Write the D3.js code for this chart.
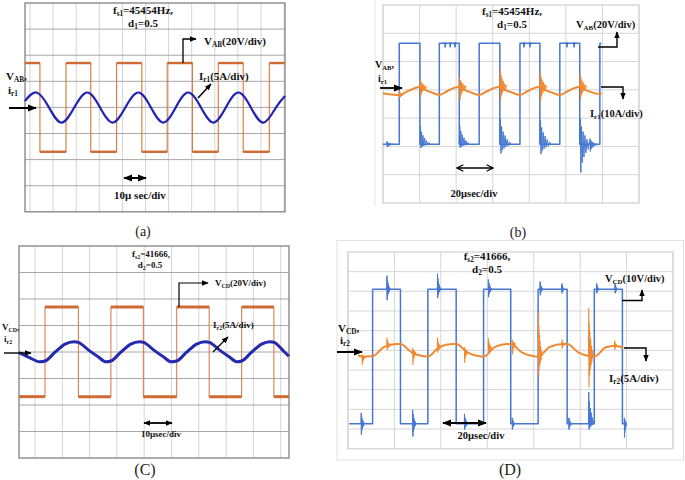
<!DOCTYPE html>
<html>
<head>
<meta charset="utf-8">
<script src="https://cdn.jsdelivr.net/npm/d3@7"></script>
<style>
body { margin: 0; background: #fff; }
text { font-family: "Liberation Serif", "Times New Roman", serif; }
</style>
</head>
<body>
<svg id="fig" width="685" height="480"></svg>
<script>
// ---- (a) 10 us/div, 20 V/div, 5 A/div
const aVabT = [-2.2, 4.3, 15.6, 26.3, 37.5, 48.4, 59.4, 70.3, 81.5, 92.3, 103.6, 110.4];
const aVabV = [34, -34, 34, -34, 34, -34, 34, -34, 34, -34, 34, 34];
const aIrT = [-2.2, 2.9, 8.2, 13.6, 19.2, 24.8, 30.3, 35.8, 41.3, 46.9, 52.3, 57.7, 63.1, 68.5, 74, 79.4, 84.8, 90.2, 95.6, 101.1, 106.5, 110.4];
const aIrV = [1.2, 2.85, 0, -2.9, 0, 2.85, 0, -2.9, 0, 2.85, 0, -2.9, 0, 2.85, 0, -2.9, 0, 2.85, 0, -2.9, 0, 2.2];

// ---- (b) 20 us/div, 20 V/div, 10 A/div
const bVabT = [0, 8.9, 20.2, 30.8, 41.7, 52.6, 63.9, 74.9, 85.8, 96.7, 107.6, 118.6, 119.4];
const bVabV = [-38.5, 33, -38.5, 33, -38.5, 33, -38.5, 33, -38.5, 33, -38.5, 33, 33];
const bIrT = [0, 4, 8.9, 13, 17, 20, 22.5, 26.5, 30.8, 35, 38.5, 41.5, 44, 48, 52.6, 57, 60.5, 63.7, 66.2, 70.3, 74.9, 79, 82.5, 85.6, 88, 92, 96.7, 101, 104.5, 107.4, 110, 114, 118.6, 119.4];
const bIrV = [-1.2, -1.6, -1.9, -0.6, 0.5, 1.0, 0.2, -0.9, -1.8, -0.5, 0.6, 1.0, 0.2, -0.9, -1.8, -0.5, 0.6, 1.0, 0.2, -0.9, -1.8, -0.5, 0.6, 1.0, 0.2, -0.9, -1.8, -0.5, 0.6, 1.0, 0.2, -0.9, -1.5, -1.0];
// spikes: [time, level, up, down, duration]
const bVabRing = [[2, -38.5, 2, 2, 4], [20.2, -38.5, 12.7, 2.5, 5.5], [41.7, -38.5, 13.4, 2.5, 5.5], [63.9, -38.5, 18, 6.4, 6], [85.8, -38.5, 17, 7, 6], [107.6, -38.5, 18, 20, 6], [113, -38.5, 4, 5, 4],
  [33.9, 33, 0.5, 3, 0.8], [36.6, 33, 0.5, 3, 0.8], [39.3, 33, 0.5, 3, 0.8], [77, 33, 0.5, 3, 0.8], [80.3, 33, 0.5, 3, 0.8], [100.5, 33, 0.5, 3, 0.8], [104.4, 33, 0.5, 3, 0.8]];
const bIrRing = [[8.9, -1.9, 1.5, 1.0, 2], [20.2, 1.0, 2.5, 3.5, 4], [41.7, 1.0, 3.5, 4.5, 4], [63.9, 1.0, 6, 4.5, 4], [85.8, 1.0, 5, 5, 4], [107.6, 1.0, 4.5, 4.5, 4]];

// ---- (C) 10 us/div, 20 V/div, 5 A/div
const cVcdT = [-5.86, 3.66, 15.9, 27.8, 39.7, 51.9, 63.8, 75.7, 87.5, 93.0];
const cVcdV = [-33.7, 34, -33.7, 34, -33.7, 34, -33.7, 34, -33.7, -33.7];
const cIrT = [-5.86, -2.2, 1.8, 3.7, 7.4, 11, 14.3, 15.9, 19.5, 23.1, 26, 27.8, 31.5, 35.1, 38.3, 39.8, 43.4, 47, 49.9, 51.9, 55.6, 59.2, 62.3, 63.9, 67.5, 71.1, 74, 75.7, 79.4, 83, 86.1, 87.6, 91.2, 93.0];
const cIrV = [-0.1, -1.0, -1.85, -1.7, 0, 1.5, 1.95, 1.8, 0.4, -0.9, -1.85, -1.7, 0, 1.5, 1.95, 1.8, 0.4, -0.9, -1.85, -1.7, 0, 1.5, 1.95, 1.8, 0.4, -0.9, -1.85, -1.7, 0, 1.5, 1.95, 1.8, 0.1, -0.8];

// ---- (D) 20 us/div, 10 V/div, 5 A/div
const dVcdT = [0.5, 10.6, 22.6, 34.4, 46.6, 58.4, 70.1, 81.9, 94.4, 106.1, 118.2, 119.5];
const dVcdV = [-37.3, 31, -37.3, 31, -37.3, 31, -37.3, 31, -37.3, 31, -37.3, -37.3];
const dIrT = [4.3, 6, 10.6, 15.6, 21, 22.6, 27.6, 34.4, 39.4, 45, 46.6, 51.6, 58.4, 63.4, 68.5, 70.1, 75.1, 81.9, 86.9, 92.8, 94.4, 99.4, 106.1, 111.1, 115, 118.6];
const dIrV = [-1.2, -1.6, -1.5, 0.9, 1.6, 1.6, -0.6, -1.6, 0.9, 1.6, 1.6, -0.6, -1.6, 0.9, 1.6, 1.6, -0.6, -1.6, 0.9, 1.6, 1.6, -0.6, -1.6, 0.8, 1.2, 0.6];
const dVcdRing = [[16.7, 31, 7, 5.5, 1.5], [38.5, 31, 8, 4.5, 1.5], [60.4, 31, 5, 4, 1.5], [82.7, 31, 4, 3, 1.2], [92.1, 31, 3, 2, 1], [107.1, 31, 3, 2, 1], [115, 31, 3, 2, 1],
  [5.6, -37.3, 5.5, 5.6, 1.5], [27.8, -37.3, 7, 6.5, 1.5], [50.1, -37.3, 5, 3, 1.5], [70.7, -37.3, 3, 3, 1.2], [95.1, -37.3, 3, 3, 1.2], [103.6, -37.3, 16, 3, 2.5], [119, -37.3, 3, 7, 1]];
const dIrRing = [[6.0, -1.6, 0.5, 2.0, 1.5], [16.7, 1.2, 2.0, 1.0, 1.5], [27.8, -0.6, 1.2, 3.0, 1.5], [38.5, 0.7, 2.5, 1.2, 1.5], [50.1, -0.3, 1.0, 2.8, 1.5], [60.4, 0.5, 2.5, 1.0, 1.5], [70.7, 1.6, 1.0, 2.5, 1.5],
  [82.0, -1.4, 10.9, 5.3, 1.6], [92.1, 1.5, 1.2, 1.0, 1.2], [103.6, -1.3, 12, 8, 2], [114.8, 1.2, 1.2, 1.0, 1.2]];

// ringing shape (fraction of duration, fraction of amplitude)
const ringDt = [0, 0.05, 0.1, 0.16, 0.22, 0.3, 0.38, 0.47, 0.56, 0.66, 0.76, 0.88, 1];
const ringK = [0, 1, -1, 0.7, -0.65, 0.5, -0.45, 0.35, -0.3, 0.2, -0.18, 0.1, 0];

const svg = d3.select("#fig");
const defs = svg.append("defs");
defs.append("marker").attr("id", "ah").attr("viewBox", "0 0 10 10")
  .attr("refX", 9).attr("refY", 5).attr("markerUnits", "userSpaceOnUse")
  .attr("markerWidth", 9).attr("markerHeight", 9).attr("orient", "auto-start-reverse")
  .append("path").attr("d", "M0,1 L10,5 L0,9 z").attr("fill", "#000");
defs.append("marker").attr("id", "ahs").attr("viewBox", "0 0 10 10")
  .attr("refX", 9).attr("refY", 5).attr("markerUnits", "userSpaceOnUse")
  .attr("markerWidth", 7).attr("markerHeight", 7).attr("orient", "auto-start-reverse")
  .append("path").attr("d", "M0,1 L10,5 L0,9 z").attr("fill", "#000");
defs.append("marker").attr("id", "aho").attr("viewBox", "0 0 10 10")
  .attr("refX", 9).attr("refY", 5).attr("markerUnits", "userSpaceOnUse")
  .attr("markerWidth", 8).attr("markerHeight", 8).attr("orient", "auto-start-reverse")
  .append("path").attr("d", "M1,1 L9,5 L1,9").attr("fill", "none").attr("stroke", "#000").attr("stroke-width", 1.4);

const zip = (T, V) => T.map((t, i) => [t, V[i]]);

function grid(x, y, xt, yt, frame, vCol, hCol, fCol) {
  const g = svg.append("g");
  g.selectAll(null).data(xt).join("line")
    .attr("x1", d => x(d)).attr("x2", d => x(d))
    .attr("y1", frame[1]).attr("y2", frame[3])
    .attr("stroke", vCol).attr("stroke-width", 1);
  g.selectAll(null).data(yt).join("line")
    .attr("x1", frame[0]).attr("x2", frame[2])
    .attr("y1", d => y(d)).attr("y2", d => y(d))
    .attr("stroke", hCol).attr("stroke-width", 1);
  g.append("rect").attr("x", frame[0]).attr("y", frame[1])
    .attr("width", frame[2] - frame[0]).attr("height", frame[3] - frame[1])
    .attr("fill", "none").attr("stroke", fCol).attr("stroke-width", 1.4);
}

function trace(x, y, pts, curve, col, w) {
  svg.append("path")
    .attr("d", d3.line().x(d => x(d[0])).y(d => y(d[1])).curve(curve)(pts))
    .attr("fill", "none").attr("stroke", col).attr("stroke-width", w)
    .attr("stroke-linejoin", "round");
}

function flats(x, y, T, V, col, w) {
  svg.append("g").selectAll(null).data(d3.range(T.length - 1)).join("line")
    .attr("x1", i => x(T[i])).attr("x2", i => x(T[i + 1]))
    .attr("y1", i => y(V[i])).attr("y2", i => y(V[i]))
    .attr("stroke", col).attr("stroke-width", w);
}

function ring(x, y, spikes, col, w) {
  spikes.forEach(s => {
    const [t, lev, up, dn, dur] = s;
    const pts = ringDt.map((f, i) => [t + f * dur, lev + (ringK[i] >= 0 ? ringK[i] * up : ringK[i] * dn)]);
    trace(x, y, pts, d3.curveLinear, col, w);
  });
}

function label(x, y, parts, size, anchor) {
  const t = svg.append("text").attr("x", x).attr("y", y)
    .attr("font-size", size).attr("font-weight", "bold")
    .attr("text-anchor", anchor || "start").attr("fill", "#111");
  let sub = false;
  parts.forEach(p => {
    const isSub = p.startsWith("_");
    const ts = t.append("tspan").text(isSub ? p.slice(1) : p);
    if (isSub) ts.attr("font-size", size * 0.66);
    if (isSub && !sub) ts.attr("dy", size * 0.22);
    if (!isSub && sub) ts.attr("dy", -size * 0.22);
    sub = isSub;
  });
}

function arrow(d, w, mk, both) {
  const p = svg.append("path").attr("d", d).attr("fill", "none")
    .attr("stroke", "#000").attr("stroke-width", w).attr("marker-end", "url(#" + mk + ")");
  if (both) p.attr("marker-start", "url(#" + mk + ")");
}

function caption(x, y, s, size) {
  svg.append("text").attr("x", x).attr("y", y).attr("font-size", size)
    .attr("text-anchor", "middle").attr("fill", "#222").text(s);
}

// ================= (a)
const xa = d3.scaleLinear().domain([0, 110]).range([30, 284.1]);
const va = d3.scaleLinear().domain([-80, 80]).range([211.8, 3]);
const ia = d3.scaleLinear().domain([-20, 20]).range([211.8, 3]);
grid(xa, va, d3.range(0, 111, 10), d3.range(-60, 61, 20), [25, 3, 285, 211.8], "#d4d4d4", "#a8a8a8", "#8a8a8a");
trace(xa, va, zip(aVabT, aVabV), d3.curveStepAfter, "#d4773f", 1.1);
flats(xa, va, aVabT, aVabV, "#cf6a33", 2.4);
trace(xa, ia, zip(aIrT, aIrV), d3.curveNatural, "#2323b5", 2.2);
label(143, 14, ["f", "_s1", "=45454Hz,"], 11, "middle");
label(143, 27, ["d", "_1", "=0.5"], 11, "middle");
label(204, 45, ["V", "_AB", "(20V/div)"], 11);
arrow("M183,63 L183,39 L196,39", 1.3, "ahs");
label(199, 80, ["I", "_r1", "(5A/div)"], 11);
arrow("M198,98 L211,84", 1.5, "ahs");
label(6, 80, ["V", "_AB", ","], 11);
label(8, 94, ["i", "_r1"], 11);
arrow("M9,108 L36,108", 2, "ah");
arrow("M124,178 L146,178", 2, "ah", true);
label(140, 199, ["10μ sec/div"], 11, "middle");
caption(143, 236, "(a)", 14);

// ================= (b)
const xb = d3.scaleLinear().domain([0, 140]).range([383, 639]);
const vb = d3.scaleLinear().domain([-80, 60]).range([203, 5]);
const ib = d3.scaleLinear().domain([-40, 30]).range([203, 5]);
svg.append("line").attr("x1", 375).attr("x2", 375).attr("y1", 0).attr("y2", 206).attr("stroke", "#e6e6e6");
grid(xb, vb, d3.range(0, 141, 20), d3.range(-60, 41, 20), [383, 5, 639, 203], "#d6d6d6", "#d6d6d6", "#d6d6d6");
trace(xb, vb, zip(bVabT, bVabV), d3.curveStepAfter, "#4677d1", 1.5);
ring(xb, vb, bVabRing, "#4677d1", 1);
trace(xb, ib, zip(bIrT, bIrV), d3.curveMonotoneX, "#f0892f", 2);
ring(xb, ib, bIrRing, "#f0892f", 1);
label(512, 15, ["f", "_s1", "=45454Hz,"], 11, "middle");
label(512, 28, ["d", "_1", "=0.5"], 11, "middle");
label(576, 28, ["V", "_AB", "(20V/div)"], 10.5);
arrow("M598,47 L617,47 L617,32", 1.4, "ahs");
label(590, 117, ["I", "_r1", "(10A/div)"], 10.5);
arrow("M601,87 L623,87 L623,99", 1.4, "ahs");
label(375, 68, ["V", "_AB", ","], 10);
label(378, 82, ["i", "_r1"], 10);
arrow("M380,88 L402,88", 1.8, "ah");
arrow("M457,168 L493,168", 1.3, "aho", true);
label(474, 197, ["20μsec/div"], 10.5, "middle");
caption(518, 237, "(b)", 14);

// ================= (C)
const xc = d3.scaleLinear().domain([0, 90]).range([35, 280.7]);
const vc = d3.scaleLinear().domain([-80, 80]).range([458, 246]);
const ic = d3.scaleLinear().domain([-20, 20]).range([458, 246]);
grid(xc, vc, d3.range(0, 91, 10), d3.range(-60, 61, 20), [19, 246, 289, 458], "#d4d4d4", "#a8a8a8", "#8a8a8a");
trace(xc, vc, zip(cVcdT, cVcdV), d3.curveStepAfter, "#d98050", 1.1);
flats(xc, vc, cVcdT, cVcdV, "#cf6a33", 3);
trace(xc, ic, zip(cIrT, cIrV), d3.curveMonotoneX, "#2429b0", 3);
label(151, 257, ["f", "_s2", "=41666,"], 9, "middle");
label(150, 268, ["d", "_2", "=0.5"], 9, "middle");
label(215, 286, ["V", "_CD", "(20V/div)"], 9);
arrow("M179,307 L179,283 L208,283", 1.2, "ahs");
label(213, 328, ["I", "_r2", "(5A/div)"], 9);
arrow("M213,352 L228,337", 1.3, "ahs");
label(2, 330, ["V", "_CD", ","], 9);
label(4, 342, ["i", "_r2"], 9);
arrow("M4,353 L31,353", 1.4, "ahs");
arrow("M144,423 L172,423", 1.8, "ahs", true);
label(161, 437, ["10μsec/div"], 9, "middle");
caption(145, 475, "(C)", 16);

// ================= (D)
const xd = d3.scaleLinear().domain([0, 140]).range([348, 673]);
const vd = d3.scaleLinear().domain([-50, 50]).range([448.7, 252]);
const id = d3.scaleLinear().domain([-25, 25]).range([448.7, 252]);
svg.append("rect").attr("x", 337).attr("y", 240.5).attr("width", 346.5).attr("height", 219.5)
  .attr("fill", "none").attr("stroke", "#e2e2e2");
grid(xd, vd, d3.range(0, 141, 20), d3.range(-40, 41, 10), [348, 252, 673, 448.7], "#d6d6d6", "#d6d6d6", "#d6d6d6");
trace(xd, vd, zip(dVcdT, dVcdV), d3.curveStepAfter, "#4677d1", 1.5);
ring(xd, vd, dVcdRing, "#4677d1", 1);
trace(xd, id, zip(dIrT, dIrV), d3.curveMonotoneX, "#f0892f", 2);
ring(xd, id, dIrRing, "#f0892f", 1.1);
label(487, 260, ["f", "_s2", "=41666,"], 11, "middle");
label(487, 273, ["d", "_2", "=0.5"], 11, "middle");
label(605, 282, ["V", "_CD", "(10V/div)"], 10.5);
arrow("M622,300.5 L642,300.5 L642,290", 1.4, "ahs");
label(609, 382, ["I", "_r2", "(5A/div)"], 11);
arrow("M624,348 L646,348 L646,361", 1.4, "ahs");
label(338, 332, ["V", "_CD", ","], 11);
label(340, 344, ["i", "_r2"], 11);
arrow("M337,352 L362,352", 2, "ah");
arrow("M443,423 L486,423", 2, "ah", true);
label(481, 439, ["20μsec/div"], 10.5, "middle");
caption(510, 475, "(D)", 16);
</script>
</body>
</html>
